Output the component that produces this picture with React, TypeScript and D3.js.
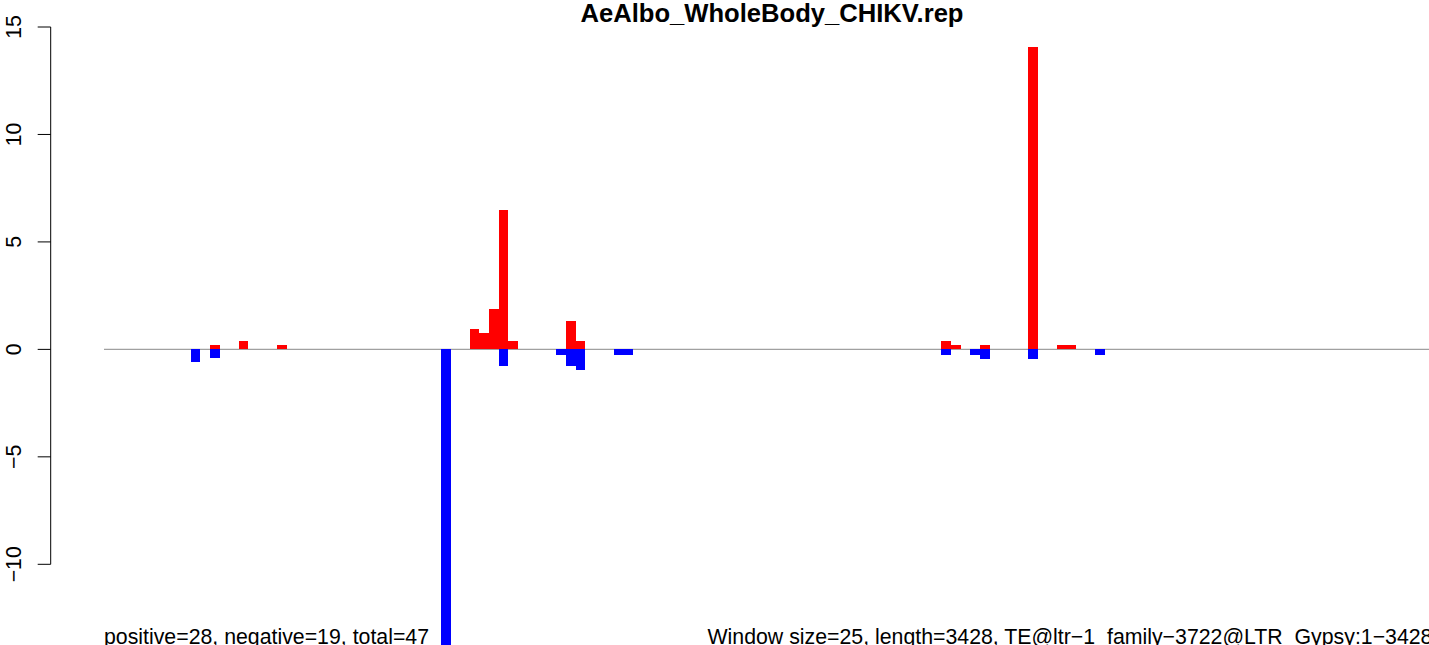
import React from "react";
import * as d3 from "d3";

const TITLE = "AeAlbo_WholeBody_CHIKV.rep";
const WINDOW_SIZE = 25;
const SEQ_LENGTH = 3428;
const LEFT_NOTE = "positive=28, negative=19, total=47";
const RIGHT_NOTE = "Window size=25, length=3428, TE@ltr−1_family−3722@LTR_Gypsy:1−3428";

// window indices (0-based) and values for sense (positive) reads
const posWindows = [11, 14, 18, 38, 39, 40, 41, 42, 48, 49, 87, 88, 91, 96, 99, 100];
const posValues = [0.22, 0.4, 0.22, 0.96, 0.78, 1.89, 6.49, 0.4, 1.33, 0.4, 0.4, 0.22, 0.22, 14.09, 0.22, 0.22];

// window indices and values for antisense (negative) reads
const negWindows = [9, 11, 35, 41, 47, 48, 49, 53, 54, 87, 90, 91, 96, 103];
const negValues = [-0.6, -0.42, -14, -0.79, -0.25, -0.79, -0.98, -0.25, -0.25, -0.25, -0.25, -0.43, -0.43, -0.25];

const yTicks = [-10, -5, 0, 5, 10, 15];

const W = 1429;
const H = 645;
const FONT = "'Liberation Sans', Arial, Helvetica, sans-serif";

export default function App() {
  const x = d3.scaleLinear().domain([0, SEQ_LENGTH]).range([104, 104 + SEQ_LENGTH * 0.385]);
  const y = d3.scaleLinear().domain([-10, 15]).range([564.3, 27]);
  const axisX = 50.7;

  const pos = posWindows.map((w, i) => ({ start: w * WINDOW_SIZE, v: posValues[i] }));
  const neg = negWindows.map((w, i) => ({ start: w * WINDOW_SIZE, v: negValues[i] }));

  const barRect = (d: { start: number; v: number }, color: string, key: string) => {
    const x0 = x(d.start);
    const x1 = x(d.start + WINDOW_SIZE);
    const y0 = y(0);
    const y1 = y(d.v);
    return (
      <rect
        key={key}
        x={x0}
        width={x1 - x0}
        y={Math.min(y0, y1)}
        height={Math.abs(y1 - y0)}
        fill={color}
        shapeRendering="crispEdges"
      />
    );
  };

  return (
    <svg
      width={W}
      height={H}
      style={{ position: "absolute", left: 0, top: 0, background: "#fff" }}
      fontFamily={FONT}
    >
      <rect x={0} y={0} width={W} height={H} fill="#fff" />
      {/* zero line */}
      <line x1={x(0)} x2={W + 60} y1={y(0)} y2={y(0)} stroke="#a0a0a0" strokeWidth={1.4} />
      {pos.map((d, i) => barRect(d, "#FF0000", "p" + i))}
      {neg.map((d, i) => barRect(d, "#0000FF", "n" + i))}
      {/* y axis */}
      <line x1={axisX} x2={axisX} y1={y(15)} y2={y(-10)} stroke="#000" strokeWidth={1} />
      {yTicks.map((t) => (
        <g key={t}>
          <line x1={axisX - 13} x2={axisX} y1={y(t)} y2={y(t)} stroke="#000" strokeWidth={1} />
          <text
            transform={`translate(20.5, ${y(t)}) rotate(-90)`}
            textAnchor="middle"
            fontSize={21.3}
            fill="#000"
          >
            {t < 0 ? "−" + Math.abs(t) : String(t)}
          </text>
        </g>
      ))}
      <text x={772} y={21.7} textAnchor="middle" fontSize={25.6} fontWeight="bold" fill="#000">
        {TITLE}
      </text>
      <text x={104} y={643.5} fontSize={21.3} fill="#000">
        {LEFT_NOTE}
      </text>
      <text x={707.5} y={643.5} fontSize={21.3} fill="#000">
        {RIGHT_NOTE}
      </text>
    </svg>
  );
}
